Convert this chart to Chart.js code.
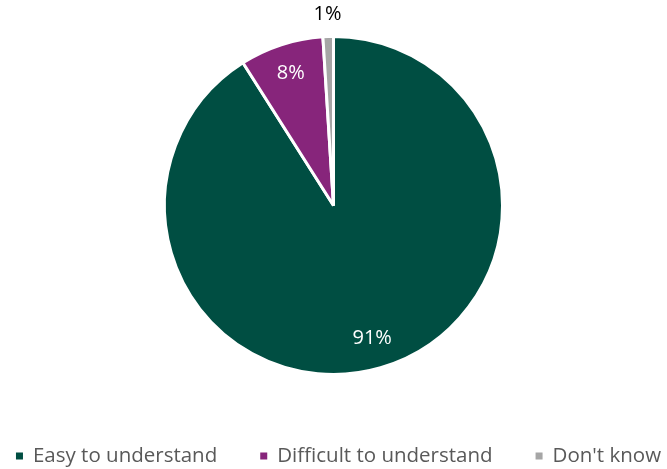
<!DOCTYPE html>
<html>
<head>
<meta charset="utf-8">
<script src="https://cdn.jsdelivr.net/npm/chart.js@4/dist/chart.umd.min.js"></script>
<style>
  html, body { margin: 0; padding: 0; background: #fff; }
  #wrap { width: 667px; height: 469px; }
</style>
</head>
<body>
<div id="wrap"><canvas id="pie" width="667" height="469"></canvas></div>
<script>
// Understanding of the information — share of respondents
const categories = ['Easy to understand', 'Difficult to understand', "Don't know"];
const shares = [91, 8, 1];
const sliceColors = ['#004e42', '#87257b', '#a6a6a6'];
const labelColors = ['#ffffff', '#ffffff', '#000000'];

const FONT = '"Open Sans", "Noto Sans", sans-serif';

// percentage labels: inside for big slices, just outside the rim for tiny ones
const sliceLabels = {
  id: 'sliceLabels',
  afterDatasetsDraw(chart) {
    const { ctx } = chart;
    const arcs = chart.getDatasetMeta(0).data;
    ctx.save();
    ctx.font = '20px ' + FONT;
    ctx.textAlign = 'center';
    ctx.textBaseline = 'middle';
    arcs.forEach((arc, i) => {
      const mid = (arc.startAngle + arc.endAngle) / 2;
      const r = shares[i] < 3 ? arc.outerRadius + 22 : arc.outerRadius * 0.82;
      ctx.fillStyle = labelColors[i];
      ctx.fillText(shares[i] + '%', arc.x + Math.cos(mid) * r, arc.y + Math.sin(mid) * r);
    });
    ctx.restore();
  }
};

// one-row legend along the bottom edge, small square swatches
const bottomLegend = {
  id: 'bottomLegend',
  afterDraw(chart) {
    const { ctx, width, height } = chart;
    const box = 7, gap = 10, spacing = 43, y = height - 13;
    ctx.save();
    ctx.font = '20.5px ' + FONT;
    ctx.textBaseline = 'middle';
    const widths = categories.map(c => ctx.measureText(c).width);
    const total = widths.reduce((s, w) => s + box + gap + w, 0) + spacing * (categories.length - 1);
    let x = width / 2 + 5 - total / 2;
    categories.forEach((c, i) => {
      ctx.fillStyle = sliceColors[i];
      ctx.fillRect(x, y - box / 2, box, box);
      ctx.fillStyle = '#595959';
      ctx.fillText(c, x + box + gap, y);
      x += box + gap + widths[i] + spacing;
    });
    ctx.restore();
  }
};

new Chart(document.getElementById('pie'), {
  type: 'pie',
  data: {
    labels: categories,
    datasets: [{
      data: shares,
      backgroundColor: sliceColors,
      borderColor: '#ffffff',
      borderWidth: 3
    }]
  },
  options: {
    responsive: false,
    animation: false,
    layout: { padding: { top: 35, left: 0, right: 0, bottom: 93 } },
    plugins: {
      tooltip: { enabled: false },
      legend: { display: false }
    }
  },
  plugins: [sliceLabels, bottomLegend]
});
</script>
</body>
</html>
